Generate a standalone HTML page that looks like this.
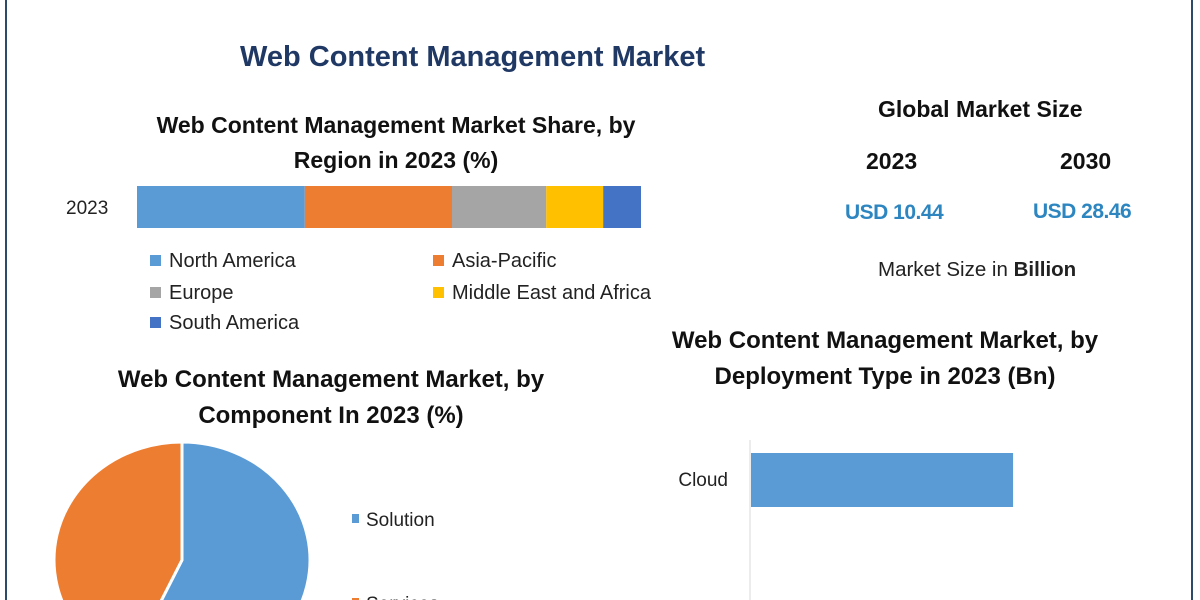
<!DOCTYPE html>
<html><head><meta charset="utf-8"><style>
html,body{margin:0;width:1200px;height:600px;overflow:hidden;background:#fff;font-family:"Liberation Sans",sans-serif;}
.t{position:absolute;white-space:nowrap;}
.b{font-weight:bold;}
</style></head><body>
<div style="position:absolute;left:5px;top:0;width:1184px;height:600px;border-left:2px solid #2d4a6a;border-right:2px solid #2d4a6a;"></div>
<div class="t b" style="left:240px;top:41px;font-size:29px;color:#1f3864;">Web Content Management Market</div>
<div class="t b" style="left:96px;top:108px;width:600px;text-align:center;font-size:23px;line-height:35px;color:#111;">Web Content Management Market Share, by<br>Region in 2023 (%)</div>
<div class="t b" style="left:878px;top:96px;font-size:23px;color:#111;">Global Market Size</div>
<div class="t b" style="left:866px;top:148px;font-size:23px;color:#111;">2023</div>
<div class="t b" style="left:1060px;top:148px;font-size:23px;color:#111;">2030</div>
<div class="t b" style="left:845px;top:201px;font-size:21px;color:#2e86c1;letter-spacing:-0.5px;">USD 10.44</div>
<div class="t b" style="left:1033px;top:200px;font-size:21px;color:#2e86c1;letter-spacing:-0.5px;">USD 28.46</div>
<div class="t" style="left:878px;top:258px;font-size:20.5px;color:#222;">Market Size in <b>Billion</b></div>
<div class="t b" style="left:600px;top:323px;width:570px;text-align:center;font-size:24px;line-height:36px;color:#111;">Web Content Management Market, by<br>Deployment Type in 2023 (Bn)</div>
<div class="t b" style="left:41px;top:362px;width:580px;text-align:center;font-size:24px;line-height:36px;color:#111;">Web Content Management Market, by<br>Component In 2023 (%)</div>
<svg id="chart" width="1200" height="600" style="position:absolute;left:0;top:0"></svg>
<script>
const regions=["North America","Asia-Pacific","Europe","Middle East and Africa","South America"];
const regionShare=[33.3,29.2,18.7,11.3,7.5];
const regionColors=["#5b9bd5","#ed7d31","#a5a5a5","#ffc000","#4472c4"];
const components=["Solution","Services"];
const componentShare=[57,43];
const compColors=["#5b9bd5","#ed7d31"];
const deployTypes=["Cloud"];
const deployValues=[6.24];
const NS="http://www.w3.org/2000/svg";
const svg=document.getElementById('chart');
function el(t,a,p){const e=document.createElementNS(NS,t);for(const k in a)e.setAttribute(k,a[k]);(p||svg).appendChild(e);return e;}
const bx=137,bw=504,by=186,bh=42;
const tot=regionShare.reduce((a,b)=>a+b,0);
let cx=bx;
const yl=el('text',{x:66,y:214,'font-size':19,fill:'#222','font-family':'Liberation Sans'});yl.textContent='2023';


regionShare.forEach((v,i)=>{const w=v/tot*bw;const r=el('rect',{x:cx,y:by,width:w,height:bh,fill:regionColors[i]});


cx+=w;});
const legPos=[[150,260],[433,260],[150,292],[433,292],[150,322]];
regions.forEach((n,i)=>{const g=el('g',{});


el('rect',{x:legPos[i][0],y:legPos[i][1]-5,width:11,height:11,fill:regionColors[i]},g);
const t=el('text',{x:legPos[i][0]+19,y:legPos[i][1]+7,'font-size':20,fill:'#222','font-family':'Liberation Sans'},g);t.textContent=n;});
const pcx=182,pcy=560,rx=128,ry=118;
let a0=0;
componentShare.forEach((v,i)=>{const a1=a0+v/100*2*Math.PI;
const x0=pcx+rx*Math.sin(a0),y0=pcy-ry*Math.cos(a0),x1=pcx+rx*Math.sin(a1),y1=pcy-ry*Math.cos(a1);
const p=el('path',{d:`M${pcx},${pcy}L${x0},${y0}A${rx},${ry} 0 ${(a1-a0)>Math.PI?1:0} 1 ${x1},${y1}Z`,fill:compColors[i],stroke:'#fff','stroke-width':3});


a0=a1;});
const clp=[[352,519],[352,603]];
components.forEach((n,i)=>{const g=el('g',{});


el('rect',{x:clp[i][0],y:clp[i][1]-5,width:7,height:9,fill:compColors[i]},g);
const t=el('text',{x:clp[i][0]+14,y:clp[i][1]+7,'font-size':19,fill:'#222','font-family':'Liberation Sans'},g);t.textContent=n;});
const ax=750,scale=420/10;
const axl=el('line',{x1:ax,y1:440,x2:ax,y2:600,stroke:'#d9d9d9','stroke-width':1});


deployTypes.forEach((n,i)=>{const y=453+i*110;
const r=el('rect',{x:ax+1,y:y,width:deployValues[i]*scale,height:54,fill:'#5b9bd5'});


const t=el('text',{x:728,y:y+33,'font-size':19,fill:'#222','text-anchor':'end','font-family':'Liberation Sans'});t.textContent=n;

});
</script>
</body></html>
